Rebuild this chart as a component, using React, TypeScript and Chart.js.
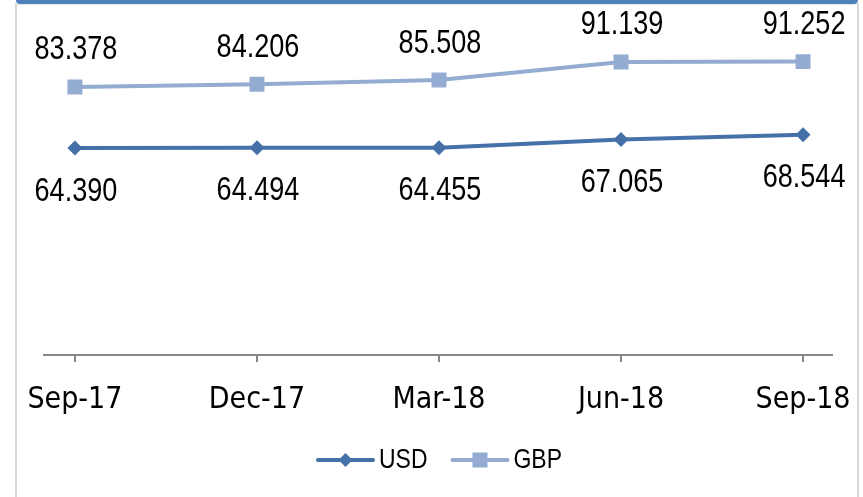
import React, { useEffect, useRef } from "react";
import { Chart, registerables } from "chart.js";

Chart.register(...registerables);

const categories = ["Sep-17", "Dec-17", "Mar-18", "Jun-18", "Sep-18"];
const usdValues = [64.39, 64.494, 64.455, 67.065, 68.544];
const gbpValues = [83.378, 84.206, 85.508, 91.139, 91.252];
const seriesNames = ["USD", "GBP"];

const USD_COLOR = "#4570A8";
const GBP_COLOR = "#94ACD2";
const TICK_FONT = "'DejaVu Sans Condensed', 'Liberation Sans', sans-serif";
const TEXT_FONT = "'Liberation Sans', Arial, sans-serif";
const NARROW = 0.82;

function narrowText(ctx: any, text: string, x: number, y: number, size: number, align: string) {
  ctx.save();
  ctx.font = `${size}px ${TEXT_FONT}`;
  ctx.translate(x, y);
  ctx.scale(NARROW, 1);
  ctx.textAlign = align;
  ctx.textBaseline = "alphabetic";
  ctx.fillStyle = "#000";
  ctx.fillText(text, 0, 0);
  ctx.restore();
}

const dataLabelPlugin = {
  id: "dataLabels",
  afterDatasetsDraw(chart: any) {
    const ctx = chart.ctx;
    chart.data.datasets.forEach((ds: any, di: number) => {
      const meta = chart.getDatasetMeta(di);
      meta.data.forEach((pt: any, i: number) => {
        const v = ds.data[i].y;
        const dy = di === 0 ? 52.6 : -27.5;
        narrowText(ctx, v.toFixed(3), pt.x + 1, pt.y + dy, 33, "center");
      });
    });
  },
};

const legendPlugin = {
  id: "customLegend",
  afterDraw(chart: any) {
    const ctx = chart.ctx;
    ctx.save();
    ctx.font = `28px ${TEXT_FONT}`;
    const lineLen = 55;
    const gapText = 6;
    const gapItem = 25;
    const items = chart.data.datasets.map((ds: any) => ({
      label: ds.label,
      color: ds.borderColor,
      style: ds.pointStyle,
      w: ctx.measureText(ds.label).width * NARROW,
    }));
    ctx.restore();
    let x = 318;
    const y = 460;
    items.forEach((it: any) => {
      ctx.save();
      ctx.strokeStyle = it.color;
      ctx.lineWidth = 4;
      ctx.lineCap = "round";
      ctx.beginPath();
      ctx.moveTo(x, y);
      ctx.lineTo(x + lineLen, y);
      ctx.stroke();
      ctx.fillStyle = it.color;
      const cx = x + lineLen / 2;
      ctx.beginPath();
      if (it.style === "rectRot") {
        const r = 7;
        ctx.moveTo(cx - r, y);
        ctx.lineTo(cx, y - r);
        ctx.lineTo(cx + r, y);
        ctx.lineTo(cx, y + r);
        ctx.closePath();
      } else {
        const s = 7.5;
        ctx.rect(cx - s, y - s, 2 * s, 2 * s);
      }
      ctx.fill();
      ctx.restore();
      narrowText(ctx, it.label, x + lineLen + gapText, y + 8, 28, "left");
      x += lineLen + gapText + it.w + gapItem;
    });
  },
};

export default function App() {
  const ref = useRef<HTMLCanvasElement>(null);

  useEffect(() => {
    if (!ref.current) return;
    const chart = new Chart(ref.current, {
      type: "line",
      data: {
        datasets: [
          {
            label: seriesNames[0],
            data: usdValues.map((v, i) => ({ x: i, y: v })),
            borderColor: USD_COLOR,
            backgroundColor: USD_COLOR,
            borderWidth: 4,
            pointStyle: "rectRot",
            pointRadius: 7.5,
            pointBorderWidth: 0,
            tension: 0,
          },
          {
            label: seriesNames[1],
            data: gbpValues.map((v, i) => ({ x: i, y: v })),
            borderColor: GBP_COLOR,
            backgroundColor: GBP_COLOR,
            borderWidth: 4,
            pointStyle: "rect",
            pointRadius: 10.6,
            pointBorderWidth: 0,
            tension: 0,
          },
        ],
      },
      options: {
        responsive: false,
        animation: false,
        layout: { padding: { left: 44, right: 31, top: 33.5, bottom: 59 } },
        plugins: { legend: { display: false }, tooltip: { enabled: false } },
        scales: {
          x: {
            type: "linear",
            min: -0.17,
            max: 4.159,
            afterBuildTicks: (axis: any) => {
              axis.ticks = categories.map((_, i) => ({ value: i }));
            },
            afterFit: (axis: any) => {
              axis.paddingLeft = 0;
              axis.paddingRight = 0;
            },
            grid: {
              display: true,
              drawOnChartArea: false,
              drawTicks: true,
              tickLength: 7,
              color: "#888888",
              lineWidth: 2,
            },
            border: { display: true, color: "#888888", width: 2 },
            ticks: {
              padding: 20,
              maxRotation: 0,
              autoSkip: false,
              color: "#000",
              font: { family: TICK_FONT, size: 30 },
              callback: (v: any) => categories[Math.round(Number(v))] ?? "",
            },
          },
          y: { display: false, min: 0, max: 100 },
        },
      },
      plugins: [dataLabelPlugin, legendPlugin],
    });
    return () => chart.destroy();
  }, []);

  return (
    <div style={{ position: "fixed", left: 0, top: 0, width: 863, height: 497, background: "#fff" }}>
      <canvas ref={ref} width={863} height={497} style={{ position: "absolute", left: 0, top: 0 }} />
      <div style={{ position: "absolute", left: 15, top: 3, width: 2, height: 494, background: "#D9D9D9" }} />
      <div style={{ position: "absolute", left: 857, top: 3, width: 2, height: 494, background: "#D9D9D9" }} />
      <div style={{ position: "absolute", left: 17, top: 4, width: 840, height: 1, background: "#E4E4E4" }} />
      <div style={{ position: "absolute", left: 16, top: 0, width: 842, height: 4, background: "#4F81BD", borderRadius: "0 0 4px 4px" }} />
    </div>
  );
}
